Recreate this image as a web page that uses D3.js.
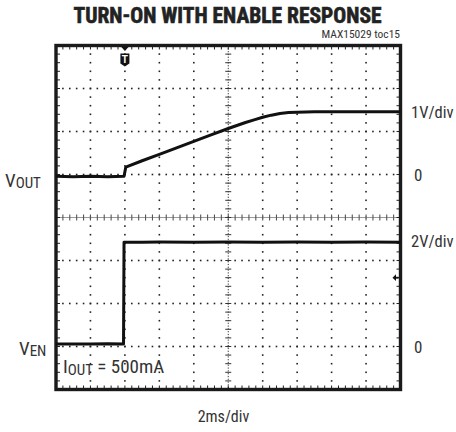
<!DOCTYPE html>
<html><head><meta charset="utf-8">
<script src="https://cdn.jsdelivr.net/npm/d3@7"></script>
<style>
body{margin:0;background:#fff;}
svg{display:block;}
text{font-family:"Liberation Sans Narrow","Arial Narrow","Roboto Condensed","Liberation Sans",Arial,sans-serif;fill:#333;}
</style>
</head><body>
<svg id="c" width="456" height="432"></svg>
<script>
// ---- data (time in ms, trigger at 0) ----
const voutTime   = [-4, -3, -2, -1, -0.05, 0.05, 1, 2, 3, 4, 5, 6, 7, 7.5, 8, 8.5, 9, 9.5, 10, 11, 12, 13, 14, 15, 16];
const voutValues = [-0.04, -0.05, -0.04, -0.05, -0.04, 0.17, 0.32, 0.47, 0.62, 0.77, 0.92, 1.07, 1.21, 1.27, 1.33, 1.38, 1.42, 1.44, 1.45, 1.46, 1.46, 1.46, 1.46, 1.46, 1.46];
const venTime    = [-4, -3, -2, -1, -0.08, -0.05, 1, 2, 4, 6, 8, 10, 12, 14, 16];
const venValues  = [0.12, 0.12, 0.12, 0.13, 0.12, 4.85, 4.85, 4.86, 4.85, 4.86, 4.85, 4.86, 4.85, 4.86, 4.85];
const timeDomain = [-4, 16];       // 10 divisions, 2 ms/div
const voutDomain = [-5, 3];        // 1 V/div
const venDomain  = [-2, 14];       // 2 V/div
const triggerTime = 0;
const triggerLevelEn = 3.2;
const labels = {title:"TURN-ON WITH ENABLE RESPONSE", note:"MAX15029 toc15", xUnit:"2ms/div",
  voutScale:"1V/div", venScale:"2V/div", zero:"0", load:"= 500mA"};

// ---- layout ----
const L = 56, R = 400.5, T = 45.5, B = 389.5;
const svg = d3.select("#c");
const x = d3.scaleLinear().domain(timeDomain).range([L, R]);
const yOut = d3.scaleLinear().domain(voutDomain).range([B, T]);
const yEn = d3.scaleLinear().domain(venDomain).range([B, T]);

const majorX = d3.range(timeDomain[0], timeDomain[1] + 0.001, 2);
const minorX = d3.range(timeDomain[0], timeDomain[1] + 0.001, 0.4);
const majorY = d3.range(voutDomain[0], voutDomain[1] + 0.001, 1);
const minorY = d3.range(voutDomain[0], voutDomain[1] + 0.001, 0.2);
const centerT = 6, centerV = -1;

const g = svg.append("g");
// dotted grid: horizontal lines
majorY.filter(v => v > voutDomain[0] && v < voutDomain[1] && v !== centerV).forEach(v => {
  g.selectAll(null).data(minorX.slice(1, -1)).enter().append("rect")
    .attr("x", d => x(d) - 0.8).attr("y", yOut(v) - 0.8).attr("width", 1.6).attr("height", 1.6).attr("fill", "#222");
});
// vertical lines
majorX.filter(t => t > timeDomain[0] && t < timeDomain[1] && t !== centerT).forEach(t => {
  g.selectAll(null).data(minorY.slice(1, -1)).enter().append("rect")
    .attr("x", x(t) - 0.8).attr("y", d => yOut(d) - 0.8).attr("width", 1.6).attr("height", 1.6).attr("fill", "#222");
});
// center horizontal line (gray with ticks)
g.append("line").attr("x1", L).attr("x2", R).attr("y1", yOut(centerV)).attr("y2", yOut(centerV))
  .attr("stroke", "#9a9a9a").attr("stroke-width", 1.2);
g.selectAll(null).data(minorX.slice(1, -1)).enter().append("line")
  .attr("x1", d => x(d)).attr("x2", d => x(d)).attr("y1", yOut(centerV) - 3).attr("y2", yOut(centerV) + 3)
  .attr("stroke", "#555").attr("stroke-width", 1.1);
// center vertical line (dotted with ticks)
g.append("line").attr("x1", x(centerT)).attr("x2", x(centerT)).attr("y1", T).attr("y2", B)
  .attr("stroke", "#333").attr("stroke-width", 1).attr("stroke-dasharray", "1.2,1.6");
g.selectAll(null).data(minorY.slice(1, -1)).enter().append("line")
  .attr("x1", x(centerT) - 3).attr("x2", x(centerT) + 3).attr("y1", d => yOut(d)).attr("y2", d => yOut(d))
  .attr("stroke", "#333").attr("stroke-width", 1);
// border ticks
g.selectAll(null).data(minorX.slice(1, -1)).enter().append("line")
  .attr("x1", d => x(d)).attr("x2", d => x(d)).attr("y1", T).attr("y2", T + 4).attr("stroke", "#222");
g.selectAll(null).data(minorX.slice(1, -1)).enter().append("line")
  .attr("x1", d => x(d)).attr("x2", d => x(d)).attr("y1", B - 4).attr("y2", B).attr("stroke", "#222");
g.selectAll(null).data(minorY.slice(1, -1)).enter().append("line")
  .attr("x1", L).attr("x2", L + 4).attr("y1", d => yOut(d)).attr("y2", d => yOut(d)).attr("stroke", "#222");
g.selectAll(null).data(minorY.slice(1, -1)).enter().append("line")
  .attr("x1", R - 4).attr("x2", R).attr("y1", d => yOut(d)).attr("y2", d => yOut(d)).attr("stroke", "#222");
// frame
g.append("rect").attr("x", L).attr("y", T).attr("width", R - L).attr("height", B - T)
  .attr("fill", "none").attr("stroke", "#1a1a1a").attr("stroke-width", 3.4);

// traces
const lineOut = d3.line().x((d, i) => x(voutTime[i])).y(d => yOut(d));
const lineEn = d3.line().x((d, i) => x(venTime[i])).y(d => yEn(d));
svg.append("path").attr("d", lineOut(voutValues)).attr("fill", "none").attr("stroke", "#111")
  .attr("stroke-width", 3).attr("stroke-linejoin", "round");
svg.append("path").attr("d", lineEn(venValues)).attr("fill", "none").attr("stroke", "#111")
  .attr("stroke-width", 3).attr("stroke-linejoin", "round");

// trigger marker
const tx = x(triggerTime);
svg.append("path").attr("d", `M${tx-4},${T+1}L${tx+4},${T+1}L${tx},${T+5.5}Z`).attr("fill", "#111");
svg.append("path").attr("d", `M${tx-4.5},${T+8}L${tx+4.5},${T+8}L${tx+4.5},${T+18}L${tx},${T+21}L${tx-4.5},${T+18}Z`).attr("fill", "#111");
svg.append("text").attr("x", tx).attr("y", T + 17).attr("text-anchor", "middle")
  .style("font-family", "Liberation Sans, Arial, sans-serif").style("font-size", "10px").style("font-weight", "bold")
  .style("fill", "#fff").text("T");
// trigger level marker
const ly = yEn(triggerLevelEn);
svg.append("path").attr("d", `M${R-8},${ly}L${R-4.5},${ly-3.4}L${R-4.5},${ly+3.4}Z`).attr("fill", "#111");
svg.append("line").attr("x1", R - 5).attr("x2", R - 2).attr("y1", ly).attr("y2", ly).attr("stroke", "#111").attr("stroke-width", 1.8);

// texts
svg.append("text").attr("x", 227.5).attr("y", 23).attr("text-anchor", "middle")
  .attr("textLength", 308).attr("lengthAdjust", "spacingAndGlyphs")
  .style("font-weight", "bold").style("font-size", "22px").style("fill", "#222")
  .style("stroke", "#222").style("stroke-width", "0.6")
  .text(labels.title);
svg.append("text").attr("x", 400).attr("y", 38).attr("text-anchor", "end")
  .style("font-size", "11.5px").text(labels.note);

function sub(xp, yp, main, s) {
  const t = svg.append("text").attr("x", xp).attr("y", yp).style("font-size", "19px");
  t.append("tspan").text(main);
  t.append("tspan").attr("dy", 1).style("font-size", "15px").text(s);
  return t;
}
sub(5, 187, "V", "OUT");
sub(19, 355, "V", "EN");
const io = svg.append("text").attr("x", 63).attr("y", 373).style("font-size", "19px");
io.append("tspan").text("I");
io.append("tspan").attr("dy", 1.5).style("font-size", "15px").text("OUT");
io.append("tspan").attr("dy", -1.5).text(" " + labels.load);

svg.append("text").attr("x", 411).attr("y", 117.5).style("font-size", "16.5px").text(labels.voutScale);
svg.append("text").attr("x", 414).attr("y", yOut(0) + 6.5).style("font-size", "17px").text(labels.zero);
svg.append("text").attr("x", 411).attr("y", 246.5).style("font-size", "16.5px").text(labels.venScale);
svg.append("text").attr("x", 414).attr("y", yEn(0) + 6.5).style("font-size", "17px").text(labels.zero);
svg.append("text").attr("x", 223.5).attr("y", 421.5).attr("text-anchor", "middle").style("font-size", "16px").text(labels.xUnit);
</script>
</body></html>
